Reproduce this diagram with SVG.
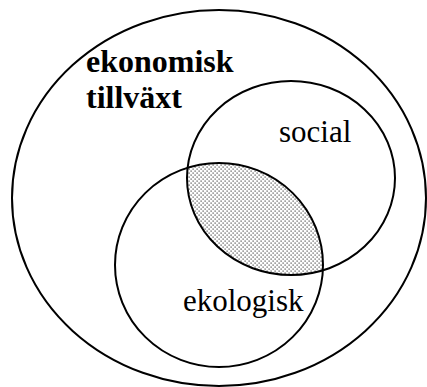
<svg xmlns="http://www.w3.org/2000/svg" width="427" height="387" viewBox="0 0 427 387">
<style>
.c{fill:none;stroke:#000;stroke-width:2}
.t{font-family:"Liberation Serif","Times New Roman",serif;font-size:31px;fill:#000}
.b{font-weight:bold;font-size:32px}
</style>
<defs>
<pattern id="dots" width="4" height="4" patternUnits="userSpaceOnUse">
<rect x="0.5" y="0.5" width="1.2" height="1.2" fill="#444"/>
<rect x="2.5" y="2.5" width="1.2" height="1.2" fill="#444"/>
</pattern>
<clipPath id="socClip"><ellipse cx="291" cy="178" rx="104" ry="97"/></clipPath>
</defs>
<rect width="427" height="387" fill="#fff"/>
<g id="overlap">
<ellipse cx="219" cy="265" rx="104" ry="102" fill="url(#dots)" clip-path="url(#socClip)"/>
</g>
<g id="ekonomisk">
<ellipse class="c" cx="219" cy="198" rx="207" ry="188"/>
<text class="t b" x="86" y="72">ekonomisk</text>
<text class="t b" x="86" y="108">tillväxt</text>
</g>
<g id="social">
<ellipse class="c" cx="291" cy="178" rx="104" ry="97"/>
<text class="t" x="279" y="142">social</text>
</g>
<g id="ekologisk">
<ellipse class="c" cx="219" cy="265" rx="104" ry="102"/>
<text class="t" x="183" y="311">ekologisk</text>
</g>
<g id="connectors"/>
</svg>
